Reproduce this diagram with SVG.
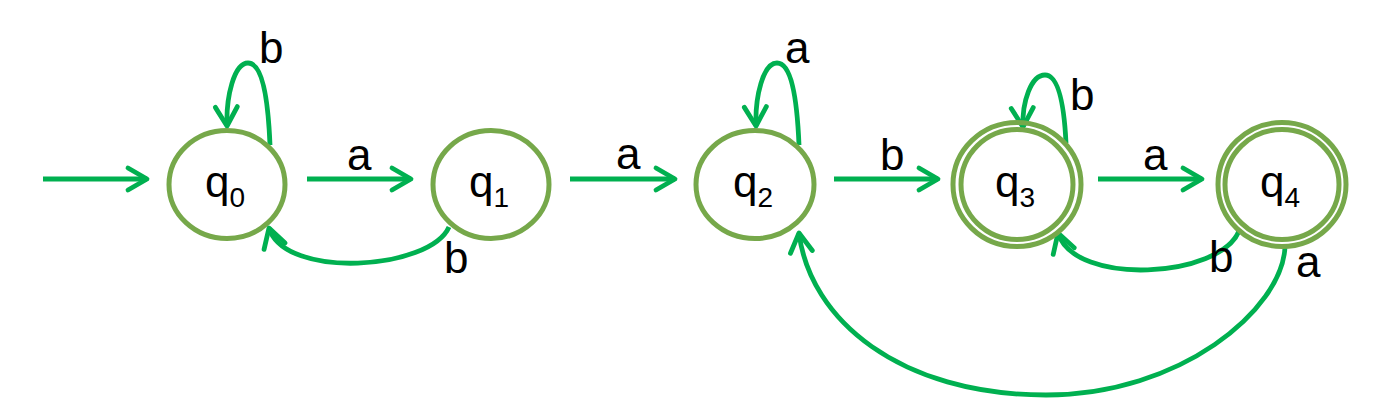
<svg xmlns="http://www.w3.org/2000/svg" width="1400" height="417" viewBox="0 0 1400 417">
<style>
.st{fill:none;stroke:#76A84A;stroke-width:5}
.ed{fill:none;stroke:#00B050;stroke-width:4.8;marker-end:url(#ah)}
.t{font-family:"Liberation Sans",Arial,sans-serif;font-size:44px;fill:#000}
.sub{font-size:28px}
</style>
<defs>
<marker id="ah" markerUnits="userSpaceOnUse" viewBox="-24 -16 30 32" markerWidth="30" markerHeight="32" refX="0" refY="0" orient="auto">
<path d="M -19 -11 L 0 0 L -19 11" fill="none" stroke="#00B050" stroke-width="4.8" stroke-linejoin="round" stroke-linecap="round"/>
</marker>
</defs>
<rect width="1400" height="417" fill="#fff"/>
<g id="connectors">
<path class="ed" d="M 43 179 L 147 179"/>
<path class="ed" d="M 307 179 L 411 179"/>
<path class="ed" d="M 570 179 L 675 179"/>
<path class="ed" d="M 834 179 L 938 179"/>
<path class="ed" d="M 1098 179 L 1202 179"/>
<path class="ed" d="M 270 145 C 268 97, 262 63, 248 63 C 234 63, 226 97, 227 126"/>
<path class="ed" d="M 799 145 C 797 97, 791 63, 777 63 C 763 63, 755 97, 756 126"/>
<path class="ed" d="M 1066 143 C 1064 102, 1058 75, 1045 75 C 1031 75, 1022 102, 1023 127"/>
<path class="ed" d="M 449 227 C 430 270, 285 280, 269 228"/>
<path class="ed" d="M 1239 231 C 1220 278, 1075 287, 1058 233"/>
<path class="ed" d="M 1285 247 C 1282 310, 1180 395, 1046 395 C 900 395, 810 320, 799 233"/>
<text class="t" x="259" y="63">b</text>
<text class="t" x="347" y="170">a</text>
<text class="t" x="444" y="273">b</text>
<text class="t" x="616" y="169">a</text>
<text class="t" x="785" y="63">a</text>
<text class="t" x="880" y="170">b</text>
<text class="t" x="1070" y="110">b</text>
<text class="t" x="1143" y="170">a</text>
<text class="t" x="1209" y="272">b</text>
<text class="t" x="1296" y="277">a</text>
</g>
<g id="q0">
<ellipse class="st" cx="227" cy="184.5" rx="58" ry="54"/>
<text class="t" x="205" y="197">q<tspan class="sub" dy="10">0</tspan></text>
</g>
<g id="q1">
<ellipse class="st" cx="491" cy="184.5" rx="58" ry="54"/>
<text class="t" x="469" y="197">q<tspan class="sub" dy="10">1</tspan></text>
</g>
<g id="q2">
<ellipse class="st" cx="755" cy="184.5" rx="59" ry="54"/>
<text class="t" x="733" y="197">q<tspan class="sub" dy="10">2</tspan></text>
</g>
<g id="q3">
<ellipse class="st" cx="1017" cy="184.5" rx="64" ry="62"/>
<ellipse class="st" cx="1017" cy="184.5" rx="56" ry="55"/>
<text class="t" x="995" y="197">q<tspan class="sub" dy="10">3</tspan></text>
</g>
<g id="q4">
<ellipse class="st" cx="1282" cy="184.5" rx="64" ry="62"/>
<ellipse class="st" cx="1282" cy="184.5" rx="57" ry="55"/>
<text class="t" x="1260" y="197">q<tspan class="sub" dy="10">4</tspan></text>
</g>
</svg>
